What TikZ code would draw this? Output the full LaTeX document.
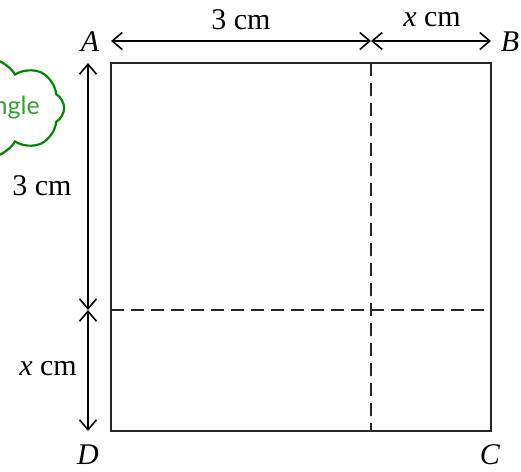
\documentclass[tikz,border=0pt]{standalone}
\usepackage{fontspec}
\setmainfont{Liberation Serif}
\newfontfamily\cloudfont{Lato}
\usetikzlibrary{arrows.meta,shapes.symbols}
\definecolor{cloudgreen}{RGB}{0,135,0}
\begin{document}
\begin{tikzpicture}[x=1pt,y=-1pt,
  edge/.style={line width=1.7pt,black!85},
  cut/.style={line width=1.7pt,black!85,dash pattern=on 13pt off 7pt},
  dim/.style={line width=1.6pt,{Straight Barb[length=10pt,width=17pt]}-{Straight Barb[length=10pt,width=17pt]}},
  lbl/.style={font=\fontsize{30}{30}\selectfont,inner sep=0pt},
  cloudbox/.style={cloud,cloud puffs=8,cloud puff arc=120,aspect=2.1,draw=cloudgreen,line width=2.2pt,
    text=cloudgreen!80!white,font=\cloudfont\fontsize{25}{25}\selectfont,minimum width=150pt,minimum height=60pt,inner sep=0pt}]
\useasboundingbox (0,0) rectangle (521,471);
\clip (0,0) rectangle (521,471);
% square corners
\coordinate (TL) at (111,63);
\coordinate (TR) at (491,63);
\coordinate (BR) at (491,431);
\coordinate (BL) at (111,431);
\coordinate (Mt) at (371,63);
\coordinate (Mb) at (371,431);
\coordinate (Ml) at (111,310);
\coordinate (Mr) at (491,310);
\draw[cut] (Mt) -- (Mb);
\draw[cut] (Ml) -- (Mr);
\draw[edge] (TL) -- (TR) -- (BR) -- (BL) -- cycle;
% dimension arrows
\coordinate (a1) at (111,41);
\coordinate (a2) at (371,41);
\coordinate (a3) at (491,41);
\coordinate (v1) at (88,63);
\coordinate (v2) at (88,310);
\coordinate (v3) at (88,431);
\draw[dim] (a1) -- (a2);
\draw[dim] (a2) -- (a3);
\draw[dim] (v1) -- (v2);
\draw[dim] (v2) -- (v3);
\node[lbl] (l1) at (241,20) {3 cm};
\node[lbl] (l2) at (432,20) {\textit{x} cm};
\node[lbl] (l3) at (42,186) {3 cm};
\node[lbl] (l4) at (48,369) {\textit{x} cm};
\node[lbl] (A) at (90,42) {\textit{A}};
\node[lbl] (B) at (510,42) {\textit{B}};
\node[lbl] (D) at (88,455) {\textit{D}};
\node[lbl] (C) at (490,455) {\textit{C}};
\node[cloudbox] (cl) at (-14,108) {Rectangle};
\end{tikzpicture}
\end{document}
